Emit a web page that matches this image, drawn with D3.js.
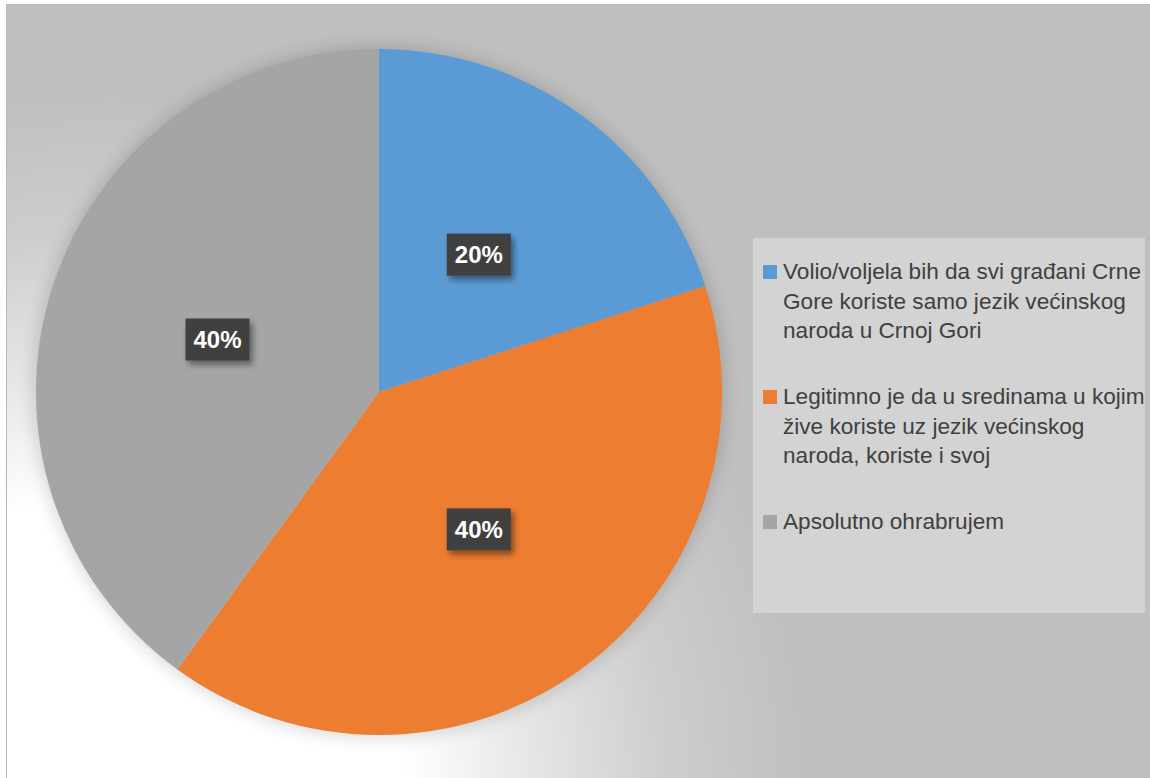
<!DOCTYPE html>
<html>
<head>
<meta charset="utf-8">
<script src="https://cdn.jsdelivr.net/npm/d3@7"></script>
<style>
  body { margin: 0; background: #fff; }
  svg { display: block; }
</style>
</head>
<body>
<div id="chart"></div>
<script>
// Data (legend labels as they wrap in the original)
const categories = [
    ["Volio/voljela bih da svi građani Crne", "Gore koriste samo jezik većinskog", "naroda u Crnoj Gori"],
    ["Legitimno je da u sredinama u kojim", "žive koriste uz jezik većinskog", "naroda, koriste i svoj"],
    ["Apsolutno ohrabrujem"]
];
const values = [20, 40, 40];
const colors = ["#5b9bd5", "#ed7d31", "#a5a5a5"];

const W = 1150, H = 778;
const cx = 379, cy = 392, radius = 343;

const svg = d3.select("#chart")
    .append("svg")
    .attr("width", W)
    .attr("height", H);

const defs = svg.append("defs");

// background: light spot in the bottom-left corner fading to grey
const bgGrad = defs.append("radialGradient")
    .attr("id", "bgGrad")
    .attr("gradientUnits", "userSpaceOnUse")
    .attr("cx", 110).attr("cy", 790).attr("r", 700);
[[0, "#ffffff"], [0.42, "#ffffff"], [0.6, "#e6e6e6"], [0.8, "#cdcdcd"], [1, "#bfbfbf"]]
    .forEach(s => bgGrad.append("stop").attr("offset", s[0]).attr("stop-color", s[1]));

defs.append("filter").attr("id", "halo")
    .attr("x", "-20%").attr("y", "-20%").attr("width", "140%").attr("height", "140%")
    .append("feGaussianBlur").attr("stdDeviation", 9);

const shadow = defs.append("filter").attr("id", "boxShadow")
    .attr("x", "-30%").attr("y", "-30%").attr("width", "160%").attr("height", "160%");
shadow.append("feDropShadow")
    .attr("dx", 3).attr("dy", 4)
    .attr("stdDeviation", 3)
    .attr("flood-color", "#000")
    .attr("flood-opacity", 0.45);

// Chart area background
svg.append("rect")
    .attr("x", 6.5).attr("y", 4.5)
    .attr("width", W - 6).attr("height", H - 4)
    .attr("fill", "url(#bgGrad)")
    .attr("stroke", "#b8b8b8");

// soft shadow around the pie
svg.append("circle")
    .attr("cx", cx).attr("cy", cy)
    .attr("r", radius + 2)
    .attr("fill", "#000")
    .attr("opacity", 0.16)
    .attr("filter", "url(#halo)");

// Pie
const pie = d3.pie().sort(null).value(d => d);
const arcs = pie(values);

const arc = d3.arc().innerRadius(0).outerRadius(radius);
const labelArc = d3.arc().innerRadius(0).outerRadius(radius * 0.99);

const g = svg.append("g").attr("transform", `translate(${cx},${cy})`);

g.selectAll("path.slice")
    .data(arcs)
    .enter()
    .append("path")
    .attr("class", "slice")
    .attr("d", arc)
    .attr("fill", (d, i) => colors[i]);

// Data labels
const labels = g.selectAll("g.label")
    .data(arcs)
    .enter()
    .append("g")
    .attr("class", "label")
    .attr("transform", d => `translate(${labelArc.centroid(d)})`);

labels.append("rect")
    .attr("x", -32).attr("y", -21)
    .attr("width", 64).attr("height", 42)
    .attr("fill", "#404040")
    .attr("filter", "url(#boxShadow)");

labels.append("text")
    .attr("text-anchor", "middle")
    .attr("dy", "0.36em")
    .style("font-family", "'Liberation Sans', Arial, sans-serif")
    .style("font-size", "24px")
    .style("font-weight", "bold")
    .style("fill", "#ffffff")
    .text(d => d.data + "%");

// Legend
const legend = svg.append("g");
legend.append("rect")
    .attr("x", 753).attr("y", 238)
    .attr("width", 392).attr("height", 375)
    .attr("fill", "#d3d3d3");

const lineH = 29.5;
const entryGap = 125;

categories.forEach((lines, i) => {
    const base = 279 + entryGap * i;
    legend.append("rect")
        .attr("x", 763).attr("y", base - 14)
        .attr("width", 14).attr("height", 14)
        .attr("fill", colors[i]);

    legend.append("text")
        .attr("x", 783).attr("y", base)
        .style("font-family", "'Liberation Sans', Arial, sans-serif")
        .style("font-size", "22.6px")
        .style("fill", "#404040")
        .selectAll("tspan")
        .data(lines)
        .enter()
        .append("tspan")
        .attr("x", 783)
        .attr("y", (d, j) => base + j * lineH)
        .text(d => d);
});
</script>
</body>
</html>
